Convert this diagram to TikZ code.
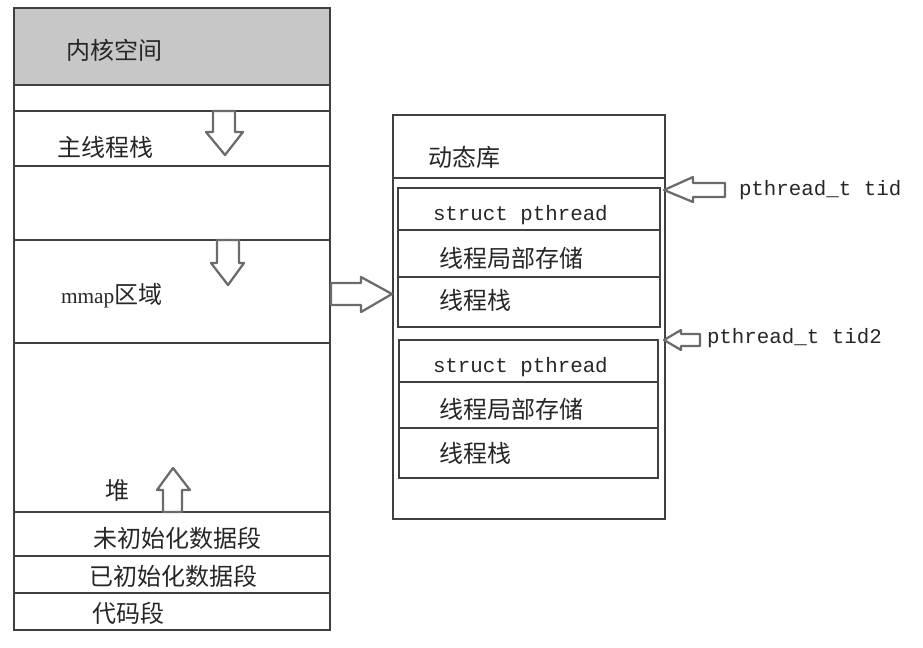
\documentclass[tikz,border=0pt]{standalone}
\usepackage{fontspec}
\setmainfont{Liberation Serif}
\setmonofont{Liberation Mono}
\newfontfamily\cjk{Noto Sans CJK SC}

\tikzset{every picture/.style={line width=1.5pt}}
\tikzset{
  zh/.style={font=\cjk\fontsize{18}{21}\selectfont, inner sep=0.75pt, anchor=west, text=black!85},
  code/.style={font=\ttfamily\fontsize{15.6}{18}\selectfont, inner sep=0.75pt, anchor=west, text=black!85},
  wall/.style={draw=black!75},
  fatarrow/.style={draw=black!58, line width=1.7pt, fill=white, line join=round},
}

\begin{document}
\begin{tikzpicture}[x=0.75pt,y=0.75pt,yscale=-1,xscale=1]
\useasboundingbox (0,0) rectangle (923,647); %set diagram to the size of the reference

%Shape: Rectangle [id:kernel]
\fill [black!22] (14,8) -- (330,8) -- (330,84) -- (14,84) -- cycle ;
%Shape: Rectangle [id:procspace]
\draw [wall] (14,8) -- (330,8) -- (330,630) -- (14,630) -- cycle ;
%Straight Lines [id:rows]
\draw [wall] (14,85) -- (330,85) ;
\draw [wall] (14,111) -- (330,111) ;
\draw [wall] (14,166) -- (330,166) ;
\draw [wall] (14,240) -- (330,240) ;
\draw [wall] (14,343) -- (330,343) ;
\draw [wall] (14,512) -- (330,512) ;
\draw [wall] (14,556) -- (330,556) ;
\draw [wall] (14,593) -- (330,593) ;

%Shape: Rectangle [id:dynlib]
\draw [wall] (393,115) -- (665,115) -- (665,519) -- (393,519) -- cycle ;
%Straight Lines [id:dynlibrow]
\draw [wall] (393,178) -- (665,178) ;
%Shape: Rectangle [id:thread1]
\draw [wall] (398,188) -- (660,188) -- (660,327) -- (398,327) -- cycle ;
\draw [wall] (398,230) -- (660,230) ;
\draw [wall] (398,277) -- (660,277) ;
%Shape: Rectangle [id:thread2]
\draw [wall] (399,340) -- (658,340) -- (658,478) -- (399,478) -- cycle ;
\draw [wall] (399,382) -- (658,382) ;
\draw [wall] (399,428) -- (658,428) ;

%Shape: Down Arrow [id:stackgrow]
\draw [fatarrow] (213,111) -- (235,111) -- (235,132) -- (243,132) -- (225,155) -- (206,132) -- (213,132) -- cycle ;
%Shape: Down Arrow [id:mmapgrow]
\draw [fatarrow] (217,240) -- (239,240) -- (239,263) -- (244,263) -- (228,285) -- (211,263) -- (217,263) -- cycle ;
%Shape: Up Arrow [id:heapgrow]
\draw [fatarrow] (163,512) -- (182,512) -- (182,490) -- (190,490) -- (173,468) -- (157,490) -- (163,490) -- cycle ;
%Shape: Right Arrow [id:tolib]
\draw [fatarrow] (331,283) -- (361,283) -- (361,277) -- (392,294) -- (361,312) -- (361,305) -- (331,305) -- cycle ;
%Shape: Left Arrow [id:tidptr]
\draw [fatarrow] (725,183) -- (693,183) -- (693,177) -- (664,190) -- (693,202) -- (693,197) -- (725,197) -- cycle ;
%Shape: Left Arrow [id:tid2ptr]
\draw [fatarrow] (700,334) -- (681,334) -- (681,330) -- (664,340) -- (681,350) -- (681,346) -- (700,346) -- cycle ;

% Text Node
\draw (64,50) node [zh] (kernel) {内核空间};
% Text Node
\draw (55,147) node [zh] (mainstack) {主线程栈};
% Text Node
\draw (59,296) node [zh] (mmap) {{\rmfamily\fontsize{16}{18}\selectfont mmap}区域};
% Text Node
\draw (103,490) node [zh] (heap) {堆};
% Text Node
\draw (91,538) node [zh] (bss) {未初始化数据段};
% Text Node
\draw (87,576) node [zh] (data) {已初始化数据段};
% Text Node
\draw (90,613) node [zh] (text) {代码段};
% Text Node
\draw (426,157) node [zh] (lib) {动态库};
% Text Node
\draw (431,215) node [code] (pthreadA) {struct pthread};
% Text Node
\draw (437,258) node [zh] (tlsA) {线程局部存储};
% Text Node
\draw (437,300) node [zh] (stackA) {线程栈};
% Text Node
\draw (431,367) node [code] (pthreadB) {struct pthread};
% Text Node
\draw (437,409) node [zh] (tlsB) {线程局部存储};
% Text Node
\draw (437,453) node [zh] (stackB) {线程栈};
% Text Node
\draw (737,190) node [code] (tid) {pthread\_t tid};
% Text Node
\draw (705,338) node [code] (tidB) {pthread\_t tid2};

\end{tikzpicture}
\end{document}
